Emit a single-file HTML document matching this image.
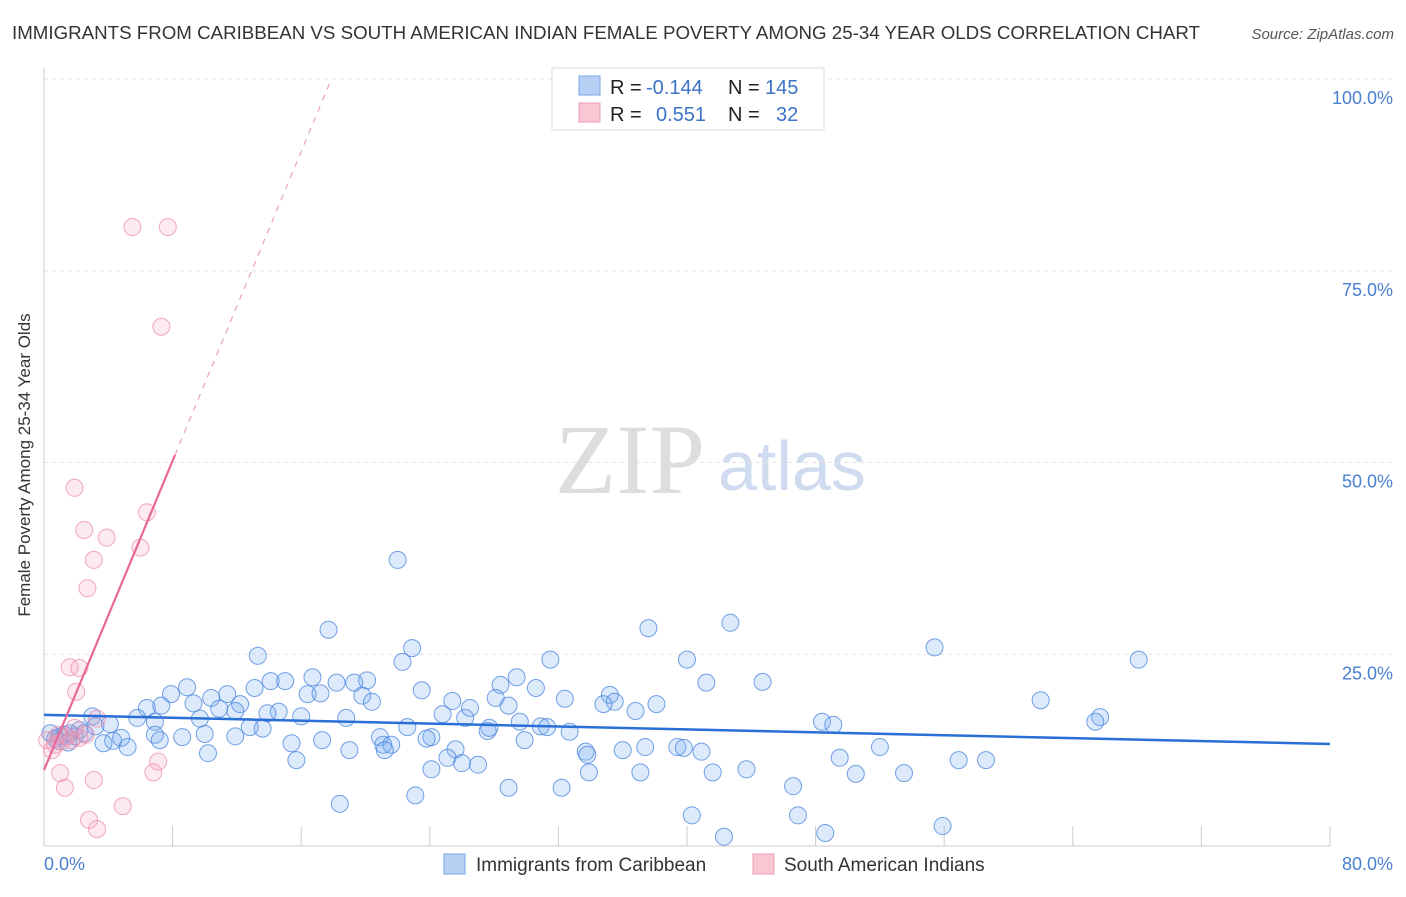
<!DOCTYPE html>
<html><head><meta charset="utf-8"><style>
body{margin:0;background:#fff;font-family:"Liberation Sans",sans-serif}
</style></head><body>
<svg id="c" width="1406" height="892" xmlns="http://www.w3.org/2000/svg" style="font-family:'Liberation Sans',sans-serif">
<text x="12" y="39" font-size="18" fill="#333" textLength="1188" lengthAdjust="spacingAndGlyphs">IMMIGRANTS FROM CARIBBEAN VS SOUTH AMERICAN INDIAN FEMALE POVERTY AMONG 25-34 YEAR OLDS CORRELATION CHART</text>
<text x="1394" y="39" font-size="15" fill="#555" font-style="italic" text-anchor="end">Source: ZipAtlas.com</text>
<g>
<text x="555" y="493" font-size="100" font-family="Liberation Serif" fill="#ddd">ZIP</text>
<text x="718" y="490" font-size="70" fill="#cfdcf0">atlas</text>
</g>
<g id="grid"></g>
<g id="pts"></g>
<g id="lines"></g>
<text x="20" y="455" font-size="17" fill="#333" transform="rotate(-90 30 455)" text-anchor="middle">Female Poverty Among 25-34 Year Olds</text>
<g>
<rect x="552" y="68" width="272" height="62" fill="#fff" stroke="#ddd"/>
<rect x="579" y="76" width="21" height="19" fill="#b8d0f4" stroke="#7aa6e6"/>
<rect x="579" y="103" width="21" height="19" fill="#f9c6d4" stroke="#ec9cb4"/>
<g font-size="20" fill="#222">
<text x="610" y="94">R =</text><text x="646" y="94" fill="#3c72c8">-0.144</text><text x="728" y="94">N =</text><text x="765" y="94" fill="#3c72c8">145</text>
<text x="610" y="121">R =</text><text x="656" y="121" fill="#3c72c8">0.551</text><text x="728" y="121">N =</text><text x="776" y="121" fill="#3c72c8">32</text>
</g>
</g>
<g>
<rect x="444" y="854" width="21" height="20" fill="#b8d0f4" stroke="#7aa6e6"/>
<text x="476" y="871" font-size="19" fill="#333">Immigrants from Caribbean</text>
<rect x="753" y="854" width="21" height="20" fill="#f9c6d4" stroke="#ec9cb4"/>
<text x="784" y="871" font-size="19" fill="#333">South American Indians</text>
</g>
</svg>
<script>
const yTicks=[25,50,75,100];
const yTickLabels=["25.0%","50.0%","75.0%","100.0%"];
const xTickCount=[0,8,16,24,32,40,48,56,64,72,80];
const blueX=[22.0,17.7,37.6,42.7,55.4,68.1,13.3,22.9,22.3,31.5,40.0,8.9,7.9,14.1,15.0,16.7,18.2,19.3,20.1,29.4,28.4,30.6,41.2,44.7,23.5,10.4,11.4,13.1,16.4,17.2,19.8,20.4,25.4,28.1,32.4,35.2,35.5,38.1,62.0,9.3,6.4,7.3,10.9,12.2,11.9,14.6,18.8,24.8,26.2,26.5,28.9,34.8,36.8,3.0,5.8,6.9,4.1,9.7,13.9,16.0,22.6,29.6,30.9,31.3,32.7,27.6,27.7,48.4,49.1,65.7,65.4,2.2,3.2,12.8,13.6,10.0,11.9,4.3,4.8,6.9,7.2,8.6,5.2,3.7,17.3,15.4,19.0,20.9,21.1,21.6,21.2,24.1,23.8,29.9,33.7,33.8,36.0,37.4,39.4,39.8,40.9,52.0,10.2,15.7,25.6,26.0,27.0,25.1,49.5,56.9,58.6,24.1,33.9,37.1,41.6,43.7,50.5,53.5,28.9,32.2,46.6,18.4,23.1,40.3,46.9,42.3,48.6,55.9,0.4,0.7,1.0,1.3,1.6,0.9,1.9,2.5,1.5];
const blueY=[37.3,28.2,28.4,29.1,25.9,24.3,24.8,25.8,24.0,24.3,24.3,20.7,19.8,21.5,21.5,22.0,21.3,21.3,21.6,22.0,21.0,20.6,21.3,21.4,20.3,19.3,19.8,20.6,19.8,19.9,19.6,18.8,18.9,19.3,19.2,19.7,18.8,18.5,19.0,18.6,18.0,18.3,17.9,18.5,17.6,17.5,16.7,17.2,16.7,18.0,18.3,18.5,17.6,16.9,16.7,16.2,15.9,16.6,17.3,16.9,15.5,16.2,15.6,15.5,14.9,15.0,15.4,16.2,15.8,16.8,16.2,15.1,15.6,15.5,15.3,14.6,14.3,13.7,14.1,14.5,13.8,14.2,12.9,13.4,13.8,13.4,12.5,14.2,13.2,13.2,12.5,14.2,14.0,13.8,12.3,11.9,12.5,12.9,12.9,12.8,12.3,12.9,12.1,11.2,12.6,10.8,10.6,11.5,11.5,11.2,11.2,10.0,9.6,9.6,9.6,10.0,9.4,9.5,7.6,7.6,7.8,5.5,6.6,4.0,4.0,1.2,1.7,2.6,14.7,14.0,14.3,14.5,14.7,13.7,14.3,14.7,13.5];
const pinkX=[5.5,7.7,7.3,1.9,6.4,2.5,3.9,6.0,3.1,2.7,1.6,2.2,2.0,3.3,1.0,1.3,3.1,6.8,7.1,2.8,3.3,4.9,0.5,0.7,1.1,1.7,2.2,0.2,1.4,1.9,2.6,0.9];
const pinkY=[80.7,80.7,67.7,46.7,43.5,41.2,40.2,38.9,37.3,33.6,23.3,23.2,20.1,16.6,9.5,7.6,8.6,9.6,11.0,3.4,2.2,5.2,12.5,13.2,13.6,13.8,14.1,13.8,14.3,15.4,14.5,14.5];
const blueTrend=[17.1,-0.0475];
const pinkTrend=[9.9,5.04];
const X0=44,X1=1330,Y0=846,Y100=79;
const sx=v=>X0+(X1-X0)*v/80, sy=v=>Y0-(Y0-Y100)*v/100;
const NS="http://www.w3.org/2000/svg";
function mk(t,a,p){const e=document.createElementNS(NS,t);for(const k in a)e.setAttribute(k,a[k]);p.appendChild(e);return e;}
const grid=document.getElementById('grid');
yTicks.forEach((v,i)=>{
 const l=mk('line',{x1:X0,x2:1394,y1:sy(v),y2:sy(v),stroke:'#e2e2e2','stroke-dasharray':'4,4'},grid);
 
 
 const t=mk('text',{x:1393,y:sy(v)+25,'font-size':18,fill:'#4a7fd0','text-anchor':'end'},grid);
 t.textContent=yTickLabels[i];
 
 
});
mk('line',{x1:X0,x2:X0,y1:68,y2:Y0,stroke:'#ccc'},grid);
const ax=mk('line',{x1:X0,x2:X1,y1:Y0,y2:Y0,stroke:'#ccc'},grid);


xTickCount.forEach(v=>{mk('line',{x1:sx(v),x2:sx(v),y1:826,y2:Y0,stroke:'#ccc'},grid);});
[[0,"0.0%",'start',44],[80,"80.0%",'end',1393]].forEach(d=>{
 const t=mk('text',{x:d[3],y:870,'font-size':18,fill:'#4a7fd0','text-anchor':d[2]},grid);
 t.textContent=d[1];
 
 
});
const pts=document.getElementById('pts');
blueX.forEach((v,i)=>{
 const c=mk('circle',{cx:sx(v),cy:sy(blueY[i]),r:8.5,fill:'rgba(120,170,240,0.25)',stroke:'rgba(70,130,220,0.75)','stroke-width':1},pts);
 
 
});
pinkX.forEach((v,i)=>{
 const c=mk('circle',{cx:sx(v),cy:sy(pinkY[i]),r:8.5,fill:'rgba(245,160,185,0.22)',stroke:'rgba(236,140,170,0.75)','stroke-width':1},pts);
 
 
});
const lines=document.getElementById('lines');
const bl=mk('line',{x1:sx(0),y1:sy(blueTrend[0]),x2:sx(80),y2:sy(blueTrend[0]+80*blueTrend[1]),stroke:'#2a6fd6','stroke-width':2.5},lines);


const pl=mk('line',{x1:sx(0),y1:sy(pinkTrend[0]),x2:sx(8.15),y2:sy(pinkTrend[0]+8.15*pinkTrend[1]),stroke:'#e8679a','stroke-width':2.2},lines);


const xe=(100-pinkTrend[0])/pinkTrend[1];
const pd=mk('line',{x1:sx(8.15),y1:sy(pinkTrend[0]+8.15*pinkTrend[1]),x2:sx(xe),y2:sy(100),stroke:'#eaa0bb','stroke-width':1.2,'stroke-dasharray':'6,6'},lines);


</script>
</body></html>
